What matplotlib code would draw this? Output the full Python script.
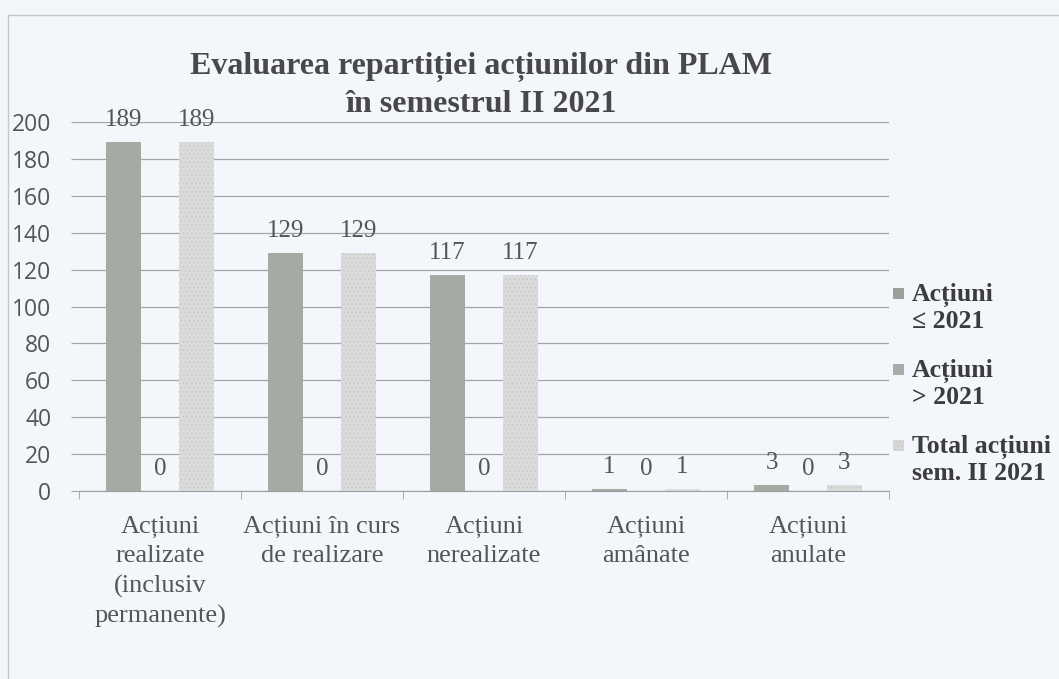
import numpy as np
import matplotlib.pyplot as plt
from matplotlib.patches import Rectangle

categories = ["Acțiuni\nrealizate\n(inclusiv\npermanente)",
              "Acțiuni în curs\nde realizare",
              "Acțiuni\nnerealizate",
              "Acțiuni\namânate",
              "Acțiuni\nanulate"]
actiuni_le_2021 = [189, 129, 117, 1, 3]
actiuni_gt_2021 = [0, 0, 0, 0, 0]
total_sem2 = [189, 129, 117, 1, 3]
series_labels = ["Acțiuni\n≤ 2021", "Acțiuni\n> 2021", "Total acțiuni\nsem. II 2021"]
yticks = [0, 20, 40, 60, 80, 100, 120, 140, 160, 180, 200]
title_lines = ["Evaluarea repartiției acțiunilor din PLAM", "în semestrul II 2021"]

BG = "#f3f6fb"
SERIF = ["Liberation Serif", "DejaVu Serif"]
W, H = 1059, 679

fig = plt.figure(figsize=(W / 100, H / 100), dpi=100, facecolor=BG)
ax = fig.add_axes([79 / W, 1 - 491 / H, (889 - 79) / W, (491 - 122) / H])
ax.set_facecolor(BG)

# chart border (scan shows only top and left edges)
fig.add_artist(plt.Line2D([8 / W, 8 / W], [0, 1 - 15 / H],
                          transform=fig.transFigure, color="#c4c7cc", lw=1.0))
fig.add_artist(plt.Line2D([8 / W, 1], [1 - 15 / H, 1 - 15 / H],
                          transform=fig.transFigure, color="#c4c7cc", lw=1.0))

x = np.arange(len(categories))
w = 0.22
colors = ["#a3aba2", "#b0b3b0", "#dadbda"]
hatches = [None, None, "...."]
plt.rcParams["hatch.color"] = "#c2c4c2"
plt.rcParams["hatch.linewidth"] = 0.6

series = [actiuni_le_2021, actiuni_gt_2021, total_sem2]
for i, (vals, c, h) in enumerate(zip(series, colors, hatches)):
    bars = ax.bar(x + (i - 1) * 0.225, vals, w, color=c, hatch=h,
                  edgecolor=c if h is None else "#c8c9c8",
                  linewidth=0, zorder=3)
    for b, v in zip(bars, vals):
        ax.annotate(str(v), (b.get_x() + b.get_width() / 2, v), xytext=(0, 8),
                    textcoords="offset points", ha="center", va="bottom",
                    fontsize=18, family=SERIF, color="#555555", zorder=4)

ax.set_ylim(0, 200)
ax.set_xlim(-0.5, len(categories) - 0.5)
ax.set_yticks(yticks)
ax.yaxis.grid(True, color="#a3a6a9", lw=0.9, zorder=0)
ax.set_axisbelow(True)
for s in ["top", "right", "left"]:
    ax.spines[s].set_visible(False)
ax.spines["bottom"].set_color("#9a9c9e")
ax.spines["bottom"].set_zorder(1)

ax.set_xticks(x)
ax.set_xticklabels(categories, family=SERIF, fontsize=19, color="#555555", linespacing=1.42)
ax.tick_params(axis="x", length=0, pad=18)
ax.set_xticks(np.arange(len(categories) + 1) - 0.5, minor=True)
ax.tick_params(axis="x", which="minor", length=6, color="#9a9c9e")
ax.tick_params(axis="y", length=6, color="#a3a6a9", pad=14, labelsize=16.5, labelcolor="#555555")
for lbl in ax.get_yticklabels():
    lbl.set_family(["Open Sans", "DejaVu Sans"])

# title, one text per line
for line, yy in zip(title_lines, [67, 104]):
    fig.text(481 / W, 1 - yy / H, line, ha="center", va="center", fontsize=23,
             fontweight="bold", family=SERIF, color="#484848")

# legend, drawn by hand: square aligned with the first text line
legend_colors = ["#9c9e9c", "#aaacaa", "#d6d7d6"]
legend_hatch = [None, None, "...."]
legend_y = [295, 371, 447]
for lab, c, h, yy in zip(series_labels, legend_colors, legend_hatch, legend_y):
    fig.add_artist(Rectangle((893 / W, 1 - (yy + 4) / H), 11 / W, 11 / H,
                             transform=fig.transFigure, facecolor=c, hatch=h,
                             edgecolor="#c8c9c8" if h else c, linewidth=0))
    fig.text(912 / W, 1 - (yy - 12) / H, lab, ha="left", va="top",
             fontsize=18.5, fontweight="bold", family=SERIF, color="#3c3c3c",
             linespacing=1.15)

fig.savefig("out.png", dpi=100, facecolor=BG)
